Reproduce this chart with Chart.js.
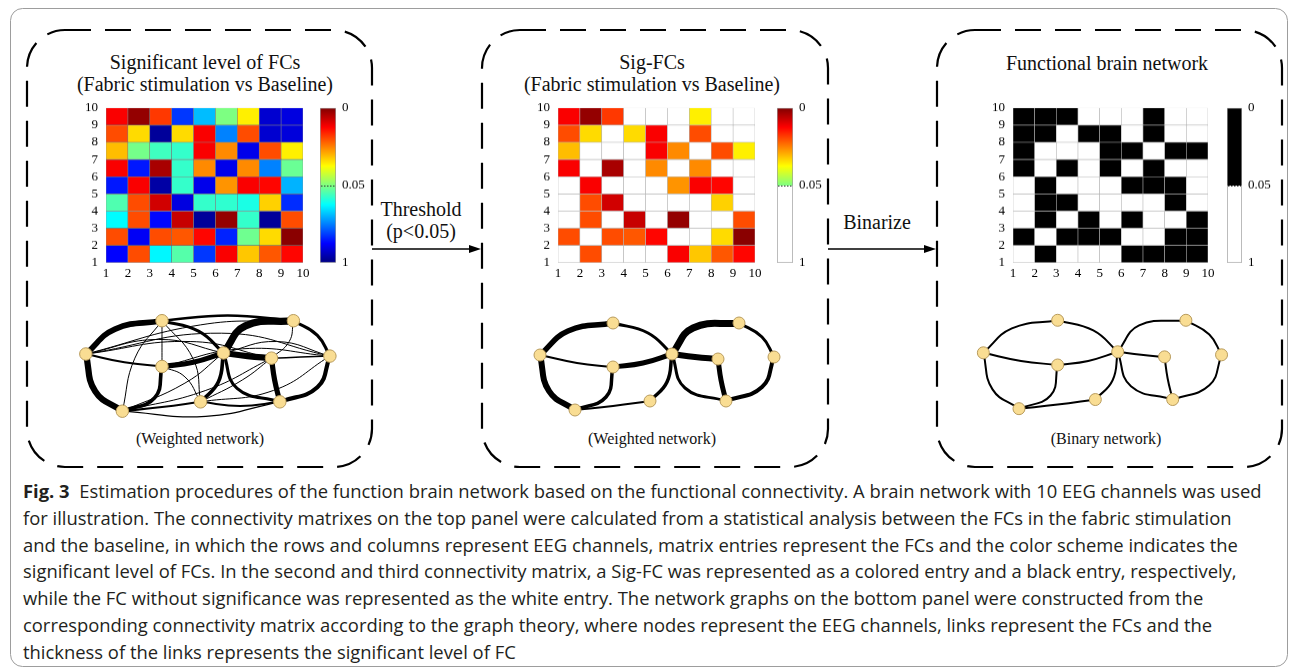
<!DOCTYPE html>
<html>
<head>
<meta charset="utf-8">
<script src="https://cdn.jsdelivr.net/npm/chart.js@4.4.1/dist/chart.umd.min.js"></script>
<style>
  html, body { margin: 0; padding: 0; background: #fff; }
  body { width: 1295px; height: 670px; position: relative; overflow: hidden; font-family: "Liberation Serif", serif; color: #111; }
  .box { position: absolute; }
  .txt { position: absolute; font-size: 20px; line-height: 22px; white-space: nowrap; transform: translateX(-50%); text-align: center; }
  .sub { position: absolute; font-size: 16px; line-height: 18px; white-space: nowrap; transform: translateX(-50%); }
  .cap { position: absolute; left: 23px; top: 478px; font-family: "Open Sans", sans-serif; font-size: 18.4px; line-height: 26.8px; color: #231f20; white-space: nowrap; }
</style>
</head>
<body>

<svg width="1295" height="670" style="position:absolute;left:0;top:0">
  <rect x="10.5" y="8.5" width="1277" height="658" rx="12" fill="none" stroke="#9d9d9d" stroke-width="1"/>
  <rect x="27" y="30" width="345" height="437" rx="38" fill="none" stroke="#000" stroke-width="2.2" stroke-dasharray="26 14"/>
  <rect x="482" y="30" width="346" height="437" rx="38" fill="none" stroke="#000" stroke-width="2.2" stroke-dasharray="26 14"/>
  <rect x="937" y="30" width="345" height="437" rx="38" fill="none" stroke="#000" stroke-width="2.2" stroke-dasharray="26 14"/>
  <line x1="372" y1="249" x2="470" y2="249" stroke="#000" stroke-width="1.3"/>
  <polygon points="469,245 481,249 469,253" fill="#000"/>
  <line x1="828" y1="249" x2="925" y2="249" stroke="#000" stroke-width="1.3"/>
  <polygon points="924,245 936,249 924,253" fill="#000"/>
</svg>

<div class="txt" style="left:205px;top:51px">Significant level of FCs<br>(Fabric stimulation vs Baseline)</div>
<div class="txt" style="left:652px;top:51px">Sig-FCs<br>(Fabric stimulation vs Baseline)</div>
<div class="txt" style="left:1107px;top:52px">Functional brain network</div>
<div class="txt" style="left:421px;top:198px">Threshold<br>(p&lt;0.05)</div>
<div class="txt" style="left:877px;top:211px">Binarize</div>

<div class="sub" style="left:200px;top:430px">(Weighted network)</div>
<div class="sub" style="left:652px;top:430px">(Weighted network)</div>
<div class="sub" style="left:1106px;top:430px">(Binary network)</div>

<div class="box" id="bm1" style="left:84px;top:98px;width:229px;height:184px"><canvas id="m1"></canvas></div>
<div class="box" id="bcb1" style="left:320px;top:98px;width:60px;height:174px"><canvas id="cb1"></canvas></div>
<div class="box" id="bm2" style="left:536px;top:98px;width:229px;height:184px"><canvas id="m2"></canvas></div>
<div class="box" id="bcb2" style="left:777px;top:98px;width:60px;height:174px"><canvas id="cb2"></canvas></div>
<div class="box" id="bm3" style="left:991px;top:98px;width:227px;height:184px"><canvas id="m3"></canvas></div>
<div class="box" id="bcb3" style="left:1227px;top:98px;width:60px;height:174px"><canvas id="cb3"></canvas></div>

<div class="box" style="left:65px;top:302px;width:292px;height:130px"><canvas id="g1"></canvas></div>
<div class="box" style="left:520px;top:305px;width:280px;height:125px"><canvas id="g2"></canvas></div>
<div class="box" style="left:963px;top:302px;width:285px;height:127px"><canvas id="g3"></canvas></div>

<div class="cap"><b>Fig. 3</b>&nbsp;&nbsp;Estimation procedures of the function brain network based on the functional connectivity. A brain network with 10 EEG channels was used<br>for illustration. The connectivity matrixes on the top panel were calculated from a statistical analysis between the FCs in the fabric stimulation<br>and the baseline, in which the rows and columns represent EEG channels, matrix entries represent the FCs and the color scheme indicates the<br>significant level of FCs. In the second and third connectivity matrix, a Sig-FC was represented as a colored entry and a black entry, respectively,<br>while the FC without significance was represented as the white entry. The network graphs on the bottom panel were constructed from the<br>corresponding connectivity matrix according to the graph theory, where nodes represent the EEG channels, links represent the FCs and the<br>thickness of the links represents the significant level of FC</div>

<script>
// ---------- matrix data ----------
const channelTicks = ['1', '2', '3', '4', '5', '6', '7', '8', '9', '10'];
const alpha = 0.05;

// p-values of FCs, one array per row (row 1 at the bottom), columns 1..9
const pRow1 = [0.76, 0.020, 0.30, 0.13, 0.66, 0.012, 0.032, 0.021, 0.013];
const pRow2 = [0.020, 0.78, 0.020, 0.021, 0.013, 0.70, 0.08, 0.034, 0.001];
const pRow3 = [0.29, 0.020, 0.75, 0.007, 0.95, 0.002, 0.19, 0.95, 0.020];
const pRow4 = [0.14, 0.020, 0.008, 0.82, 0.19, 0.20, 0.24, 0.033, 0.68];
const pRow5 = [0.72, 0.012, 0.93, 0.19, 0.80, 0.027, 0.012, 0.013, 0.43];
const pRow6 = [0.012, 0.72, 0.004, 0.19, 0.026, 0.80, 0.026, 0.52, 0.09];
const pRow7 = [0.031, 0.07, 0.17, 0.19, 0.012, 0.026, 0.80, 0.020, 0.036];
const pRow8 = [0.020, 0.034, 0.95, 0.034, 0.012, 0.52, 0.020, 0.85, 0.83];
const pRow9 = [0.012, 0.002, 0.018, 0.66, 0.41, 0.055, 0.036, 0.85, 0.82];
const pRows = [pRow1, pRow2, pRow3, pRow4, pRow5, pRow6, pRow7, pRow8, pRow9];

// colorbar ticks
const cbTickPos = [0, 0.5, 1];
const cbTickLabels = ['0', '0.05', '1'];

// ---------- network data ----------
// channels A..J -> 0..9
const nodeX = [0, 73, 73, 35, 110, 132, 199, 178, 234, 186];
const nodeY = [0, -32, 12, 55, 46, -1, -32, 4, 2, 46];

// significant links (bend point + weight)
const sigFrom   = [0, 1, 0, 2, 0, 2, 3, 4, 5, 6, 8, 5, 5, 7];
const sigTo     = [1, 5, 2, 5, 3, 3, 4, 5, 6, 8, 9, 9, 7, 9];
const sigViaX   = [28, 108, 37, 103, 9, 66, 73, 127, 153, 222, 222, 145, 155, 181];
const sigViaY   = [-24, -22, 8, 8, 36, 42, 51, 27, -27, -18, 32, 33, 2, 25];
const sigWeight = [5.5, 3, 2, 5, 6, 3.5, 2, 3.5, 7, 3, 4, 3, 6, 5];

// non-significant links (only in the first weighted network)
const weakFrom   = [1, 1, 1, 1, 0, 0, 0, 0, 2, 3, 3, 4, 4, 4, 3, 5, 2, 6, 7];
const weakTo     = [2, 3, 4, 6, 6, 8, 7, 5, 4, 5, 7, 7, 8, 9, 9, 8, 8, 7, 8];
const weakViaX   = [73, 47, 103, 136, 110, 130, 100, 70, 95, 95, 115, 150, 180, 148, 115, 183, 150, 195, 206];
const weakViaY   = [-10, 4, 5, -37, -28, -20, -12, -14, 22, 28, 35, 25, 35, 50, 60, -12, -5, -12, 3];
const weakWeight = [1, 1, 1, 2.5, 1, 1, 1, 1, 1, 1, 1, 1, 1, 2, 1.2, 1, 1, 1, 1.5];

// ---------- helpers ----------
Chart.defaults.animation = false;
Chart.defaults.font.family = '"Liberation Serif", serif';
Chart.defaults.color = '#000';
Chart.defaults.plugins.legend.display = false;
Chart.defaults.plugins.tooltip.enabled = false;

function jet(s) {
  const c = v => Math.round(255 * Math.max(0, Math.min(1, v)));
  return 'rgb(' + c(Math.min(4 * s - 1.5, -4 * s + 4.5)) + ',' +
    c(Math.min(4 * s - 0.5, -4 * s + 3.5)) + ',' + c(Math.min(4 * s + 0.5, -4 * s + 2.5)) + ')';
}
// position on the colorbar: 1 = p of 0 (top), 0.5 = alpha, 0 = p of 1 (bottom)
function level(p) {
  return p <= alpha ? 1 - 0.5 * p / alpha : 0.5 - 0.5 * (p - alpha) / (1 - alpha);
}

// move/resize the holder so the plot area lands on the wanted box
function placeArea(chart, boxId, left, top, width, height) {
  const box = document.getElementById(boxId);
  const a = chart.chartArea;
  const w = parseFloat(box.style.width) + width - (a.right - a.left);
  const h = parseFloat(box.style.height) + height - (a.bottom - a.top);
  box.style.left = (left - a.left) + 'px';
  box.style.top = (top - a.top) + 'px';
  box.style.width = w + 'px';
  box.style.height = h + 'px';
  chart.resize(w, h);
}

const tickFont = { family: '"Liberation Serif", serif', size: 13 };

function heatmap(id, colorFor, gridColor) {
  const datasets = pRows.map((row, r) => ({
    data: row.map((p, c) => ({ x: c + 1.5, y: [r + 1, r + 2] })),
    backgroundColor: row.map(colorFor),
    borderColor: gridColor,
    borderWidth: 0.6,
    borderSkipped: false,
    grouped: false,
    barPercentage: 1,
    categoryPercentage: 1
  }));
  return new Chart(document.getElementById(id), {
    type: 'bar',
    data: { datasets },
    options: {
      responsive: true,
      maintainAspectRatio: false,
      layout: { padding: { top: 10, right: 10, left: 0, bottom: 0 } },
      scales: {
        x: {
          type: 'linear', min: 1, max: 10, offset: false,
          grid: { display: false, drawTicks: false, offset: false }, border: { display: false },
          ticks: { stepSize: 1, autoSkip: false, maxRotation: 0, padding: 3, font: tickFont,
                   callback: v => channelTicks[v - 1] },
          afterFit: s => { s.height = 20; }
        },
        y: {
          type: 'linear', min: 1, max: 10,
          grid: { display: false, drawTicks: false }, border: { display: false },
          ticks: { stepSize: 1, autoSkip: false, padding: 8, font: tickFont,
                   callback: v => channelTicks[v - 1] },
          afterFit: s => { s.width = 22; }
        }
      }
    }
  });
}

placeArea(heatmap('m1', p => jet(level(p)), 'rgba(90,90,90,0.7)'), 'bm1', 106, 108, 197, 154);
placeArea(heatmap('m2', p => (p < alpha ? jet(level(p)) : '#ffffff'), '#b5b5b5'), 'bm2', 558, 108, 197, 154);
placeArea(heatmap('m3', p => (p < alpha ? '#000000' : '#ffffff'), '#b5b5b5'), 'bm3', 1013, 108, 195, 154);

// colorbars
const dottedLine = {
  id: 'dotted',
  afterDatasetsDraw(chart) {
    const y = chart.scales.y.getPixelForValue(0.5);
    const { left, right } = chart.chartArea;
    const ctx = chart.ctx;
    ctx.save();
    ctx.strokeStyle = '#333';
    ctx.lineWidth = 1;
    ctx.setLineDash([1.5, 1.5]);
    ctx.beginPath();
    ctx.moveTo(left + 1, Math.round(y) + 0.5);
    ctx.lineTo(right - 1, Math.round(y) + 0.5);
    ctx.stroke();
    ctx.restore();
  }
};

function colorbar(id, stops) {
  return new Chart(document.getElementById(id), {
    type: 'bar',
    data: {
      labels: ['p'],
      datasets: [{
        data: [[0, 1]],
        backgroundColor: ctx => {
          const area = ctx.chart.chartArea;
          if (!area) return '#fff';
          const g = ctx.chart.ctx.createLinearGradient(0, area.top, 0, area.bottom);
          stops.forEach(st => g.addColorStop(st[0], st[1]));
          return g;
        },
        borderColor: '#9a9a9a',
        borderWidth: 1,
        borderSkipped: false,
        barPercentage: 1,
        categoryPercentage: 1
      }]
    },
    options: {
      responsive: true,
      maintainAspectRatio: false,
      layout: { padding: { top: 10, bottom: 10, left: 0, right: 0 } },
      scales: {
        x: { display: false },
        y: {
          position: 'right', min: 0, max: 1, reverse: true,
          grid: { display: false, drawTicks: false }, border: { display: false },
          afterBuildTicks: s => { s.ticks = cbTickPos.map(v => ({ value: v })); },
          ticks: { padding: 6, font: tickFont, callback: (v, i) => cbTickLabels[i] },
          afterFit: s => { s.width = 44; }
        }
      }
    },
    plugins: [dottedLine]
  });
}

const jetStops = [[0, jet(1)], [0.125, jet(0.875)], [0.375, jet(0.625)], [0.5, jet(0.5)],
                  [0.625, jet(0.375)], [0.875, jet(0.125)], [1, jet(0)]];
placeArea(colorbar('cb1', jetStops), 'bcb1', 320, 108, 16, 154);
placeArea(colorbar('cb2', [[0, jet(1)], [0.125, jet(0.875)], [0.375, jet(0.625)], [0.5, jet(0.5)],
                 [0.5, '#ffffff'], [1, '#ffffff']]), 'bcb2', 777, 108, 16, 154);
placeArea(colorbar('cb3', [[0, '#000000'], [0.5, '#000000'], [0.5, '#ffffff'], [1, '#ffffff']]),
          'bcb3', 1227, 108, 15, 154);

// networks
function linkSets(from, to, viaX, viaY, widthOf) {
  return from.map((a, i) => ({
    data: [{ x: nodeX[a], y: nodeY[a] }, { x: viaX[i], y: viaY[i] }, { x: nodeX[to[i]], y: nodeY[to[i]] }],
    showLine: true,
    borderColor: '#000',
    borderWidth: widthOf(i),
    borderCapStyle: 'round',
    tension: 0.45,
    pointRadius: 0,
    clip: false
  }));
}

function network(id, links, k) {
  const nodes = {
    data: nodeX.map((x, i) => ({ x, y: nodeY[i] })),
    pointRadius: 6 * k,
    backgroundColor: '#f9dd93',
    borderColor: '#b89b5c',
    borderWidth: 1,
    clip: false
  };
  new Chart(document.getElementById(id), {
    type: 'scatter',
    data: { datasets: [nodes].concat(links) },
    options: {
      responsive: true,
      maintainAspectRatio: false,
      layout: { padding: 0, autoPadding: false },
      scales: {
        x: { display: false, min: -20, max: 260 },
        y: { display: false, min: -50, max: 75, reverse: true }
      }
    }
  });
}

network('g1', linkSets(sigFrom, sigTo, sigViaX, sigViaY, i => sigWeight[i] * 1.04)
  .concat(linkSets(weakFrom, weakTo, weakViaX, weakViaY, i => weakWeight[i])), 1.04);
network('g2', linkSets(sigFrom, sigTo, sigViaX, sigViaY, i => sigWeight[i]), 1);
network('g3', linkSets(sigFrom, sigTo, sigViaX, sigViaY, () => 2), 1);
</script>
</body>
</html>
